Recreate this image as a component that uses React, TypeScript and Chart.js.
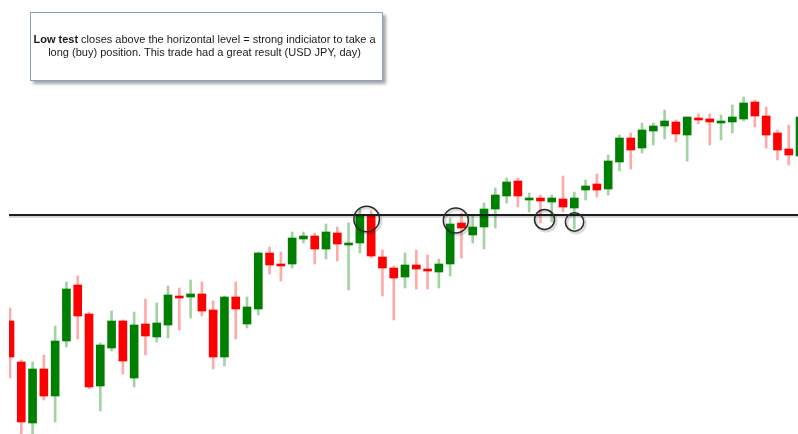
import React, { useEffect, useRef } from "react";
import { Chart, registerables } from "chart.js";

Chart.register(...registerables);

// USD JPY, daily candles (price units)
const opens = [
  89.4, 85.3, 79.2, 84.6, 81.9, 87.4, 93.0, 90.1, 82.9, 86.7,
  89.4, 83.7, 89.1, 87.8, 89.0, 91.9, 91.8, 92.1, 90.5, 85.8,
  91.8, 89.1, 90.6, 96.2, 95.1, 95.1, 97.6, 97.9, 96.6, 98.2,
  97.0, 97.2, 100.0, 95.8, 94.7, 93.8, 95.0, 94.6, 94.3, 95.1,
  99.2, 98.0, 98.8, 100.6, 101.9, 103.4, 101.5, 101.7, 101.3, 101.6,
  100.7, 102.5, 103.1, 102.6, 105.3, 107.7, 106.7, 108.4, 108.9, 109.3,
  108.0, 109.7, 109.6, 109.2, 109.3, 109.6, 111.3, 109.9, 108.2, 106.6,
  105.9,
];
const highs = [
  90.7, 85.5, 85.3, 86.0, 88.9, 93.3, 93.9, 90.3, 87.2, 90.4,
  89.5, 90.3, 91.6, 91.2, 92.9, 92.7, 93.5, 93.3, 91.4, 91.9,
  93.3, 91.8, 96.3, 96.8, 96.3, 98.3, 98.3, 98.2, 99.1, 98.8,
  99.2, 100.6, 100.4, 96.5, 94.9, 96.2, 96.5, 96.0, 95.6, 99.7,
  100.2, 99.9, 101.2, 102.7, 103.7, 103.7, 102.2, 102.0, 102.0, 103.9,
  102.3, 103.5, 104.1, 106.0, 108.0, 108.2, 109.2, 109.2, 110.5, 109.5,
  109.8, 110.1, 110.1, 110.0, 111.0, 111.8, 111.5, 110.8, 108.5, 109.0,
  110.5,
];
const lows = [
  83.7, 77.9, 77.9, 81.5, 79.3, 86.8, 87.6, 82.6, 80.4, 86.4,
  84.1, 82.8, 86.0, 87.3, 87.7, 88.5, 89.7, 89.9, 84.6, 84.9,
  87.6, 88.7, 90.0, 94.1, 93.4, 94.7, 97.2, 95.1, 95.6, 95.4,
  92.5, 96.2, 95.7, 91.9, 89.5, 92.7, 92.6, 92.6, 92.7, 93.9,
  95.7, 97.2, 96.6, 98.7, 101.2, 100.8, 100.3, 99.2, 99.3, 100.3,
  98.6, 101.5, 101.8, 102.0, 104.4, 104.6, 106.2, 107.0, 107.6, 107.3,
  105.4, 109.1, 107.0, 107.5, 108.2, 109.4, 108.8, 106.7, 105.5, 105.0,
  105.5,
];
const closes = [
  85.8, 79.3, 84.6, 81.9, 87.4, 92.6, 89.9, 82.8, 87.0, 89.4,
  85.4, 89.0, 87.9, 89.2, 92.0, 91.7, 92.1, 90.4, 85.8, 91.8,
  90.6, 90.8, 96.2, 95.0, 94.9, 97.7, 97.9, 96.6, 98.3, 97.1,
  97.2, 100.0, 95.9, 94.7, 93.7, 95.0, 94.6, 94.4, 95.1, 99.1,
  98.7, 98.8, 100.6, 102.0, 103.3, 101.9, 101.7, 101.4, 101.7, 100.8,
  101.7, 102.9, 102.5, 105.4, 107.7, 106.5, 108.5, 108.9, 109.4, 108.1,
  109.8, 109.5, 109.3, 109.4, 109.8, 111.2, 109.9, 108.0, 106.5, 106.0,
  109.8,
];

// Horizontal level
const levelPrice = 100.0;

// Circled "tests" of the level (x = candle position, y = price, r = radius px)
const circleX = [31.6, 39.5, 47.36, 50.02];
const circleY = [99.6, 99.45, 99.55, 99.3];
const circleR = [12.8, 12.5, 10, 9.2];

const GREEN = "#008000";
const RED = "#ff0000";
const GREEN_WICK = "#a3d3a3";
const RED_WICK = "#ffaaaa";

export default function App() {
  const canvasRef = useRef<HTMLCanvasElement | null>(null);

  useEffect(() => {
    const canvas = canvasRef.current;
    if (!canvas) return;
    const up = opens.map((o, i) => closes[i] >= o);

    const chart = new Chart(canvas, {
      type: "bar",
      data: {
        datasets: [
          {
            type: "bar",
            label: "wicks",
            data: lows.map((l, i) => ({ x: i, y: [l, highs[i]] })) as any,
            backgroundColor: up.map((u) => (u ? GREEN_WICK : RED_WICK)),
            borderWidth: 0,
            barThickness: 2,
            grouped: false,
            order: 10,
          } as any,
          {
            type: "bar",
            label: "bodies",
            data: opens.map((o, i) => ({ x: i, y: [o, closes[i]] })) as any,
            backgroundColor: up.map((u) => (u ? GREEN : RED)),
            borderWidth: 0,
            barThickness: 8,
            minBarLength: 2,
            grouped: false,
            order: 9,
          } as any,
          {
            type: "line",
            label: "level shadow",
            data: [
              { x: -2, y: levelPrice - 0.17 },
              { x: 72, y: levelPrice - 0.17 },
            ],
            borderColor: "rgba(0,0,0,0.18)",
            borderWidth: 2,
            pointRadius: 0,
            order: 6,
          } as any,
          {
            type: "line",
            label: "level",
            data: [
              { x: -2, y: levelPrice },
              { x: 72, y: levelPrice },
            ],
            borderColor: "#1e1e1e",
            borderWidth: 2,
            pointRadius: 0,
            order: 5,
          } as any,
          {
            type: "bubble",
            label: "circle shadow",
            data: circleX.map((x, i) => ({
              x: x + 0.14,
              y: circleY[i] - 0.16,
              r: circleR[i],
            })),
            backgroundColor: "rgba(0,0,0,0)",
            borderColor: "rgba(0,0,0,0.14)",
            borderWidth: 3,
            order: 2,
          } as any,
          {
            type: "bubble",
            label: "circles",
            data: circleX.map((x, i) => ({ x, y: circleY[i], r: circleR[i] })),
            backgroundColor: "rgba(0,0,0,0)",
            borderColor: "#2a2a2a",
            borderWidth: 1.5,
            order: 1,
          } as any,
        ],
      },
      options: {
        animation: false,
        responsive: false,
        devicePixelRatio: 1,
        events: [],
        layout: {
          autoPadding: false,
          padding: { left: 9, right: 0, top: 0, bottom: 0 },
        },
        plugins: {
          legend: { display: false },
          tooltip: { enabled: false },
          title: { display: false },
        },
        scales: {
          x: {
            type: "linear",
            display: false,
            offset: false,
            bounds: "data",
            min: -0.0886,
            max: 69.82,
            grid: { display: false },
          },
          y: {
            type: "linear",
            display: false,
            bounds: "data",
            min: 78.1,
            max: 121.5,
            grid: { display: false },
          },
        },
      } as any,
    });

    return () => chart.destroy();
  }, []);

  return (
    <div
      style={{
        position: "fixed",
        left: 0,
        top: 0,
        width: 798,
        height: 434,
        background: "#ffffff",
        overflow: "hidden",
      }}
    >
      <canvas
        ref={canvasRef}
        width={798}
        height={434}
        style={{ display: "block", width: 798, height: 434 }}
      />
      <div
        style={{
          position: "absolute",
          left: 30,
          top: 12,
          width: 351,
          height: 67,
          border: "1px solid #8e9fc6",
          background: "#ffffff",
          boxShadow: "3px 3px 3px rgba(0,0,0,0.35)",
          fontFamily: "'Liberation Sans', Arial, sans-serif",
          fontSize: 11,
          lineHeight: "12.5px",
          color: "#1a1a1a",
          textAlign: "center",
          whiteSpace: "nowrap",
          boxSizing: "content-box",
        }}
      >
        <div style={{ position: "absolute", left: 0, right: 4, top: 20 }}>
          <b>Low test</b> closes above the horizontal level = strong indiciator to take a
          <br />
          long (buy) position. This trade had a great result (USD JPY, day)
        </div>
      </div>
    </div>
  );
}
